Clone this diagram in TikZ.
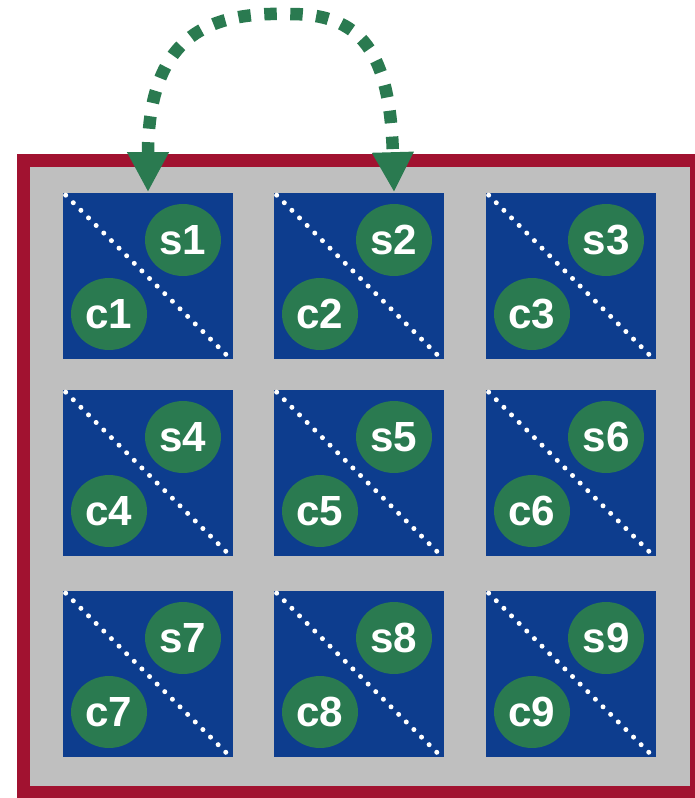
\documentclass[tikz,border=0pt]{standalone}
\usepackage{fontspec}
\setmainfont{Liberation Sans}
\usetikzlibrary{arrows.meta,shapes.geometric}
\definecolor{cellblue}{RGB}{13,61,142}
\definecolor{tokgreen}{RGB}{42,122,80}
\definecolor{framered}{RGB}{161,18,48}
\definecolor{framegray}{RGB}{191,191,191}
\begin{document}
\begin{tikzpicture}[x=0.02cm,y=-0.02cm,
  cell/.style={fill=cellblue, minimum width=3.4cm, minimum height=3.34cm, inner sep=0pt},
  token/.style={ellipse, fill=tokgreen, minimum width=1.52cm, minimum height=1.44cm,
    inner sep=0pt, text=white, font=\fontsize{24}{28}\selectfont\bfseries},
  diag/.style={white, line width=0.1cm, line cap=round, dash pattern=on 0pt off 0.215cm},
  exchange/.style={tokgreen, line width=0.25cm, dash pattern=on 0.25cm off 0.27cm,
    {Triangle[length=0.8cm,width=0.78cm]}-{Triangle[length=0.8cm,width=0.78cm]}}]
\useasboundingbox (0,0) rectangle (694,798);

% Outer frame
\draw[framered, line width=0.26cm, fill=framegray] (23.5,160.5) rectangle (696.5,792.5);

% Cells with their two tokens
\foreach \col/\x in {0/148,1/359,2/571}
  \foreach \row/\y in {0/276,1/473,2/674} {
    \pgfmathtruncatemacro{\k}{3*\row+\col+1}
    \node[cell] (b\k) at (\x,\y) {};
    \draw[diag] ([xshift=0.06cm,yshift=-0.06cm]b\k.north west)
      -- ([xshift=-0.14cm,yshift=0.1cm]b\k.south east);
    \node[token] (s\k) at (\x+35,\y-36) {s\k};
    \node[token] (c\k) at (\x-39,\y+38) {c\k};
  }

% Swap between the first two cells
\draw[exchange] (b1.north) .. controls (148,30) and (215,12) .. (290,14)
  .. controls (360,14) and (390,50) .. (s2 |- b2.north);
\end{tikzpicture}
\end{document}
